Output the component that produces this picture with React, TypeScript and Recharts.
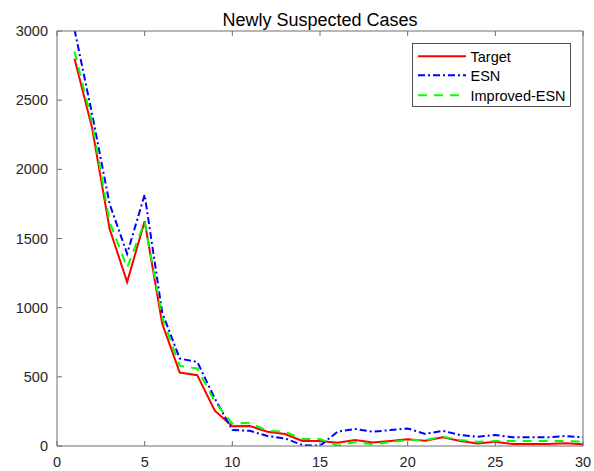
import React from 'react';
import { LineChart, Line, XAxis, YAxis } from 'recharts';

const days = [1,2,3,4,5,6,7,8,9,10,11,12,13,14,15,16,17,18,19,20,21,22,23,24,25,26,27,28,29,30];
const target = [2800,2300,1570,1185,1625,885,531,512,255,142,144,103,87,36,36,24,43,26,36,48,38,63,36,19,31,14,14,14,19,12];
const esn = [3010,2400,1750,1390,1817,965,632,608,344,115,110,72,55,7,2,103,123,103,115,127,87,110,79,67,79,63,63,63,72,63];
const improved = [2851,2340,1620,1290,1620,930,579,560,320,162,168,110,103,50,50,2,29,12,29,43,43,67,43,31,36,36,36,36,36,31];
const xTicks = [0,5,10,15,20,25,30];
const yTicks = [0,500,1000,1500,2000,2500,3000];
const seriesNames = ['Target', 'ESN', 'Improved-ESN'];

const data = days.map((d, i) => ({ day: d, target: target[i], esn: esn[i], improved: improved[i] }));

const FONT = '"Liberation Sans", Arial, Helvetica, sans-serif';
const AXIS = '#6e6e6e';
const TXT = '#262626';

export default function App() {
  const tickStyle = { fontSize: 14.5, fontFamily: FONT, fill: TXT };
  return (
    <div style={{ position: 'absolute', left: 0, top: 0, width: 594, height: 471, background: '#fff' }}>
      <LineChart width={594} height={471} data={data} margin={{ top: 30, right: 10, bottom: 0, left: 0 }}>
        <XAxis xAxisId="b" dataKey="day" type="number" domain={[0, 30]} ticks={xTicks} height={25}
          tickSize={-5} tickMargin={16} stroke={AXIS} tick={tickStyle} interval={0} allowDataOverflow />
        <XAxis xAxisId="t" orientation="top" dataKey="day" type="number" domain={[0, 30]} ticks={xTicks} height={1}
          tickSize={-5} stroke={AXIS} tickFormatter={() => ''} interval={0} />
        <YAxis yAxisId="l" type="number" domain={[0, 3000]} ticks={yTicks} width={57}
          tickSize={-5} tickMargin={14} stroke={AXIS} tick={tickStyle} interval={0} allowDataOverflow />
        <YAxis yAxisId="r" orientation="right" type="number" domain={[0, 3000]} ticks={yTicks} width={1}
          tickSize={-5} stroke={AXIS} tickFormatter={() => ''} interval={0} />
        <Line xAxisId="b" yAxisId="l" dataKey="target" name={seriesNames[0]} stroke="#ff0000" strokeWidth={2} dot={false} isAnimationActive={false} />
        <Line xAxisId="b" yAxisId="l" dataKey="esn" name={seriesNames[1]} stroke="#0000ff" strokeWidth={2} strokeDasharray="7 3 2 3" dot={false} isAnimationActive={false} />
        <Line xAxisId="b" yAxisId="l" dataKey="improved" name={seriesNames[2]} stroke="#00ff00" strokeWidth={2} strokeDasharray="9 7" dot={false} isAnimationActive={false} />
      </LineChart>
      <svg width={594} height={120} style={{ position: 'absolute', left: 0, top: 0, pointerEvents: 'none' }}>
        <text x={320} y={26} textAnchor="middle" fontSize={18} fontFamily={FONT} fill="#000">Newly Suspected Cases</text>
        <g transform="translate(412,43)">
          <rect x={0.5} y={0.5} width={158} height={63} fill="#fff" stroke="#262626" strokeWidth={0.8} />
          <line x1={6} x2={54} y1={13.3} y2={13.3} stroke="#ff0000" strokeWidth={2} />
          <line x1={6} x2={54} y1={32.3} y2={32.3} stroke="#0000ff" strokeWidth={2} strokeDasharray="7 3 2 3" />
          <line x1={6} x2={54} y1={52.3} y2={52.3} stroke="#00ff00" strokeWidth={2} strokeDasharray="9 7" />
          <text x={58.5} y={18.5} fontSize={14.5} fontFamily={FONT} fill="#000">{seriesNames[0]}</text>
          <text x={58.5} y={37.5} fontSize={14.5} fontFamily={FONT} fill="#000">{seriesNames[1]}</text>
          <text x={58.5} y={57.5} fontSize={14.5} fontFamily={FONT} fill="#000">{seriesNames[2]}</text>
        </g>
      </svg>
    </div>
  );
}
